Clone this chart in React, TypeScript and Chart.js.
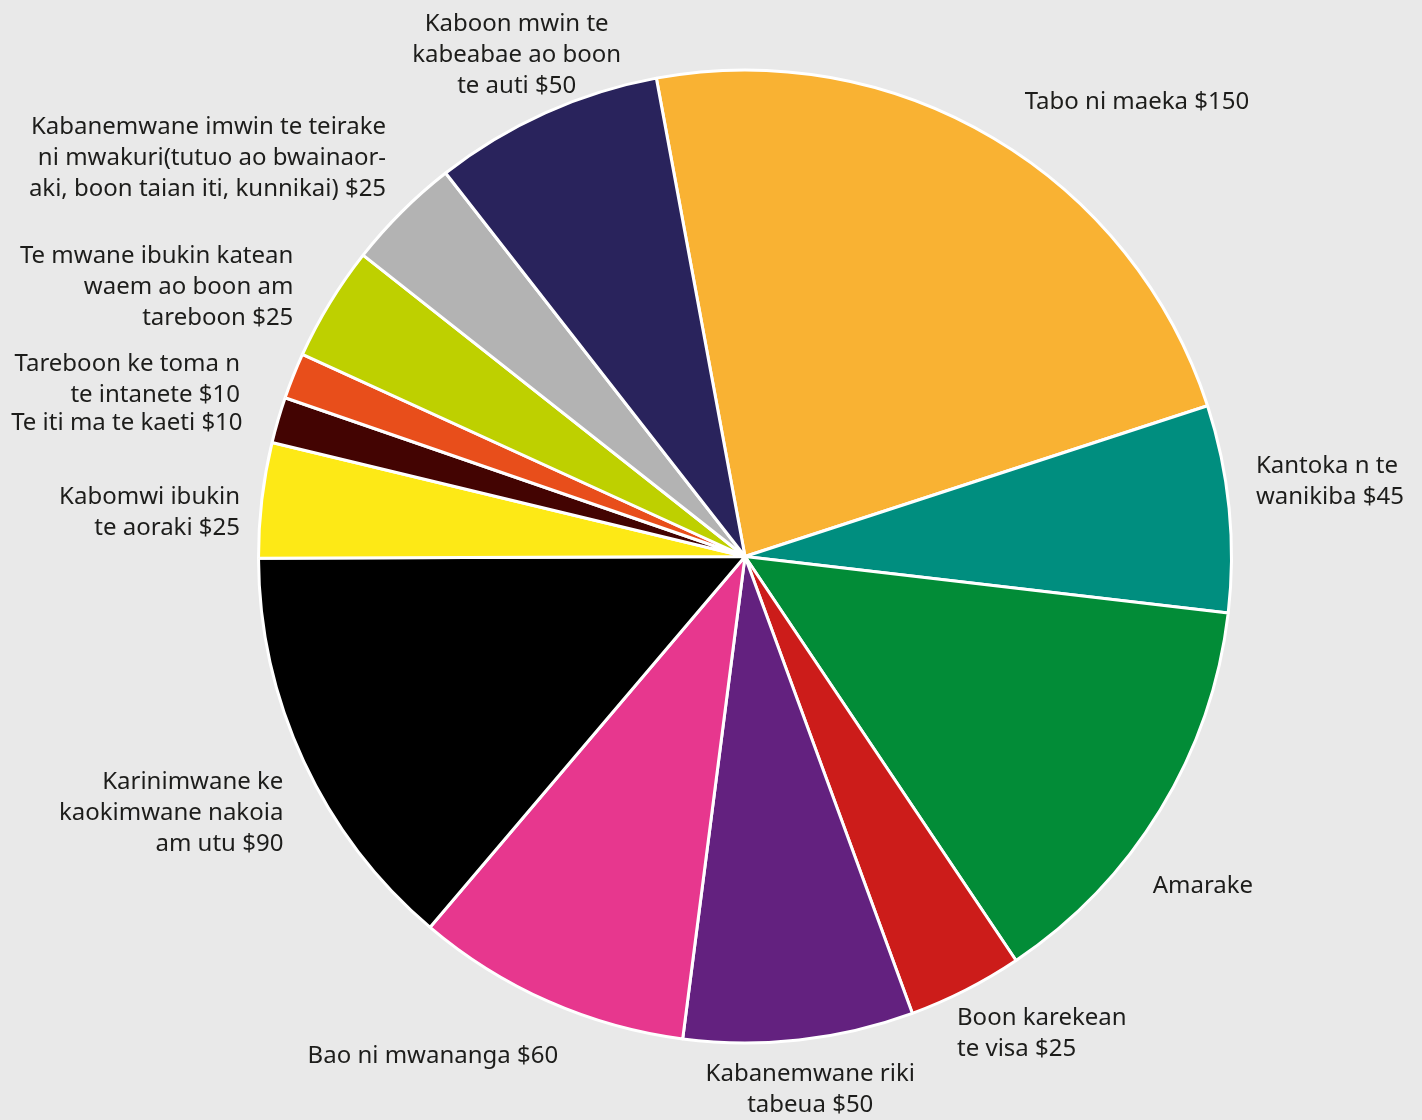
import React, { useEffect, useRef } from "react";
import { Chart, registerables } from "chart.js";

Chart.register(...registerables);

// ---- data ----
const categories = [
  "Tabo ni maeka",
  "Kantoka n te wanikiba",
  "Amarake",
  "Boon karekean te visa",
  "Kabanemwane riki tabeua",
  "Bao ni mwananga",
  "Karinimwane ke kaokimwane nakoia am utu",
  "Kabomwi ibukin te aoraki",
  "Te iti ma te kaeti",
  "Tareboon ke toma n te intanete",
  "Te mwane ibukin katean waem ao boon am tareboon",
  "Kabanemwane imwin te teirake ni mwakuri",
  "Kaboon mwin te kabeabae ao boon te auti",
];

const values = [150, 45, 90, 25, 50, 60, 90, 25, 10, 10, 25, 25, 50];

const labelLines = [
  ["Tabo ni maeka $150"],
  ["Kantoka n te", "wanikiba $45"],
  ["Amarake"],
  ["Boon karekean", "te visa $25"],
  ["Kabanemwane riki", "tabeua $50"],
  ["Bao ni mwananga $60"],
  ["Karinimwane ke", "kaokimwane nakoia", "am utu $90"],
  ["Kabomwi ibukin", "te aoraki $25"],
  ["Te iti ma te kaeti $10"],
  ["Tareboon ke toma n", "te intanete $10"],
  ["Te mwane ibukin katean", "waem ao boon am", "tareboon $25"],
  ["Kabanemwane imwin te teirake", "ni mwakuri(tutuo ao bwainaor-", "aki, boon taian iti, kunnikai) $25"],
  ["Kaboon mwin te", "kabeabae ao boon", "te auti $50"],
];

const colors = [
  "#F9B233",
  "#008E7F",
  "#028C37",
  "#CC1C1A",
  "#63217F",
  "#E7378E",
  "#000000",
  "#FDE916",
  "#430402",
  "#E84E1B",
  "#BED000",
  "#B3B3B3",
  "#29235C",
];

// ---- label placement (relative to each slice's mid-angle) ----
const labelAlign: CanvasTextAlign[] = [
  "center", "left", "left", "left", "center", "center",
  "right", "right", "right", "right", "right", "right", "center",
];
const labelNudgeX = [124, -11, -40, -26, 7, -100, 14, 16, 1, -18, -4, 11, -13];
const labelNudgeY = [-3, -23, 56, 10, 12, 20, 36, 17, 14, 18, 4, -27, -23];

const FONT = '"Noto Sans", "Open Sans", sans-serif';
const FONT_SIZE = 24;
const LINE_H = 31;
const GAP = 38;

const outsideLabels = {
  id: "outsideLabels",
  afterDatasetsDraw(chart: any) {
    const ctx = chart.ctx as CanvasRenderingContext2D;
    const meta = chart.getDatasetMeta(0);
    ctx.save();
    ctx.font = `${FONT_SIZE}px ${FONT}`;
    ctx.fillStyle = "#1d1d1b";
    ctx.textBaseline = "middle";
    meta.data.forEach((arc: any, i: number) => {
      const p = arc.getProps(["x", "y", "startAngle", "endAngle", "outerRadius"], true);
      const mid = (p.startAngle + p.endAngle) / 2;
      const d = p.outerRadius + GAP;
      const ax = p.x + Math.cos(mid) * d + labelNudgeX[i];
      const ay = p.y + Math.sin(mid) * d + labelNudgeY[i];
      const lines = labelLines[i];
      ctx.textAlign = labelAlign[i];
      const top = ay - ((lines.length - 1) * LINE_H) / 2;
      lines.forEach((ln, k) => ctx.fillText(ln, ax, top + k * LINE_H));
    });
    ctx.restore();
  },
};

export default function App() {
  const ref = useRef<HTMLCanvasElement | null>(null);

  useEffect(() => {
    if (!ref.current) return;
    const chart = new Chart(ref.current, {
      type: "pie",
      data: {
        labels: categories,
        datasets: [
          {
            data: values,
            backgroundColor: colors,
            borderColor: "#ffffff",
            borderWidth: 3,
          },
        ],
      },
      options: {
        responsive: false,
        animation: false,
        rotation: -10.5,
        layout: { padding: { top: 68, bottom: 75, left: 257, right: 189 } },
        plugins: {
          legend: { display: false },
          tooltip: { enabled: false },
        },
      },
      plugins: [outsideLabels],
    });
    return () => chart.destroy();
  }, []);

  return (
    <div
      style={{
        position: "fixed",
        left: 0,
        top: 0,
        width: 1422,
        height: 1120,
        background: "#e9e9e9",
      }}
    >
      <canvas ref={ref} width={1422} height={1120} style={{ width: 1422, height: 1120, display: "block" }} />
    </div>
  );
}
